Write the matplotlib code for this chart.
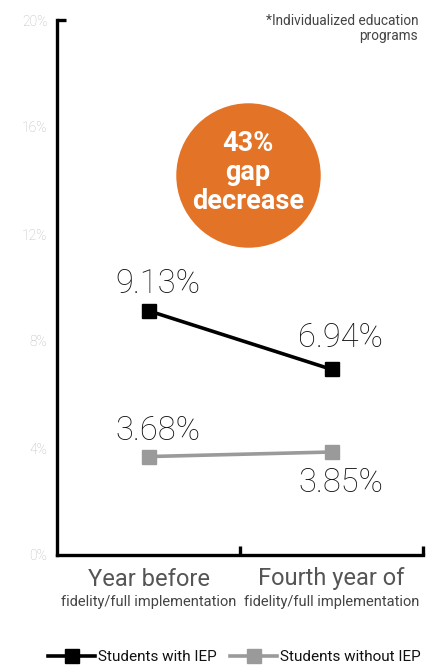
import matplotlib
matplotlib.use("Agg")
import matplotlib.pyplot as plt

categories = ["Year before", "Fourth year of"]
subcategories = ["fidelity/full implementation", "fidelity/full implementation"]
series_names = ["Students with IEP", "Students without IEP"]
with_iep = [9.13, 6.94]
without_iep = [3.68, 3.85]
yticks = [0, 4, 8, 12, 16, 20]
callout = "43%\ngap\ndecrease"
footnote = "*Individualized education\nprograms"

plt.rcParams['font.family'] = ['Roboto', 'DejaVu Sans']

fig = plt.figure(figsize=(4.33, 6.68), dpi=100)
ax = fig.add_axes([57/433, 113/668, 366/433, 535/668])

x = [0.5, 1.5]
BLACK = "#000000"
GRAY = "#9a9a9a"
ORANGE = "#E37326"

ax.plot(x, with_iep, color=BLACK, lw=2.6, marker="s", ms=10, label=series_names[0], zorder=3)
ax.plot(x, without_iep, color=GRAY, lw=2.6, marker="s", ms=10, label=series_names[1], zorder=3)

ax.set_xlim(0, 2)
ax.set_ylim(0, 20)

for s in ["top", "right"]:
    ax.spines[s].set_visible(False)
for s in ["left", "bottom"]:
    ax.spines[s].set_linewidth(2.4)
    ax.spines[s].set_color(BLACK)

ax.set_yticks(yticks)
ax.set_yticklabels([f"{v}%" for v in yticks])
ax.tick_params(axis="y", length=0, pad=7, labelsize=10, labelcolor="#bbbbbb")
for t in ax.get_yticklabels():
    t.set_fontweight("light")
ax.set_xticks([])

# inner ticks
kw = dict(color=BLACK, lw=2.4, clip_on=False, solid_capstyle="butt")
ax.plot([0, 0.05], [20, 20], **kw)
ax.plot([1, 1], [0, 0.35], **kw)
ax.plot([2, 2], [0, 0.35], **kw)

# category labels
for xi, c, sc in zip(x, categories, subcategories):
    ax.annotate(c, (xi, 0), xytext=(0, -9), textcoords="offset points",
                ha="center", va="top", fontsize=17, color="#555555")
    ax.annotate(sc, (xi, 0), xytext=(0, -29), textcoords="offset points",
                ha="center", va="top", fontsize=10.5, color="#444444")

# value labels
lab = dict(ha="center", fontsize=23.5, color="#111111", fontweight="light",
           textcoords="offset points")
ax.annotate(f"{with_iep[0]:.2f}%", (x[0], with_iep[0]), xytext=(6.5, 13), va="baseline", **lab)
ax.annotate(f"{with_iep[1]:.2f}%", (x[1], with_iep[1]), xytext=(6.5, 16), va="baseline", **lab)
ax.annotate(f"{without_iep[0]:.2f}%", (x[0], without_iep[0]), xytext=(6.5, 12), va="baseline", **lab)
ax.annotate(f"{without_iep[1]:.2f}%", (x[1], without_iep[1]), xytext=(6.5, -29), va="baseline", **lab)

# callout circle
cx, cy = 1.044, 14.2
ax.scatter([cx], [cy], s=104**2, color=ORANGE, zorder=1, linewidths=0)
ax.annotate(callout, (cx, cy), xytext=(0, 2), textcoords="offset points",
            ha="center", va="center", fontsize=19.5, color="white",
            fontweight="bold", linespacing=1.08, zorder=2)

# footnote
fig.text(418/433, 1 - 14/668, footnote, ha="right", va="top", fontsize=9.8,
         color="#444444", linespacing=1.05)

leg = fig.legend(loc="center", bbox_to_anchor=(234/433, 1 - 657/668), ncol=2, frameon=False,
                 fontsize=11, handlelength=3.1, columnspacing=0.9, handletextpad=0.15,
                 borderaxespad=0, borderpad=0)
for t in leg.get_texts():
    t.set_color("#111111")

fig.savefig("out.png", dpi=100)
